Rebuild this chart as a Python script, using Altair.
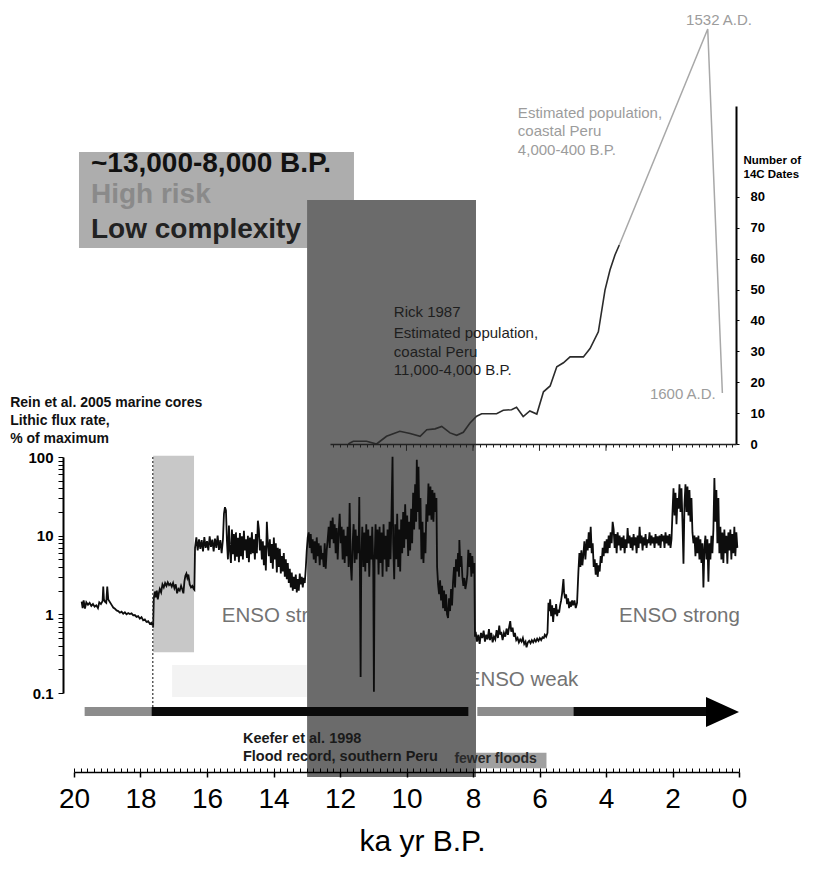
import altair as alt
import pandas as pd

FONT = "Liberation Sans, Arial, Helvetica, sans-serif"

# ---------------- data ----------------
X_TICKS = [20, 18, 16, 14, 12, 10, 8, 6, 4, 2, 0]
FLUX_TICKS = [0.1, 0.2, 0.3, 0.4, 0.5, 0.6, 0.7, 0.8, 0.9,
              1, 2, 3, 4, 5, 6, 7, 8, 9,
              10, 20, 30, 40, 50, 60, 70, 80, 90, 100]
POP_TICKS = [0, 10, 20, 30, 40, 50, 60, 70, 80]
POP_MAJOR_KA = [10, 8, 6, 4, 2]

# Rein et al. 2005 lithic flux (% of maximum), [ka, value]
FLUX_A = [(19.77,1.45),(19.74,1.20),(19.71,1.50),(19.67,1.18),(19.63,1.42),(19.58,1.32),(19.53,1.40),
          (19.48,1.28),(19.43,1.35),(19.38,1.25),(19.33,1.30),(19.28,1.20),(19.24,1.42),(19.19,1.35),
          (19.14,1.48),(19.12,2.25),(19.10,1.55),(19.07,1.45),(19.03,1.40),(19.00,2.25),(18.97,1.55),
          (18.86,1.30),(18.82,1.22),(18.77,1.18),(18.72,1.12),(18.67,1.10),(18.62,1.05),(18.57,1.08),
          (18.52,1.02),(18.47,1.06),(18.42,1.00),(18.37,1.04),(18.32,1.01),(18.27,1.03),(18.22,0.97),
          (18.17,0.98),(18.12,0.93),(18.07,0.95),(18.02,0.88),(17.97,0.92),(17.92,0.84),(17.87,0.86),
          (17.82,0.80),(17.77,0.82),(17.72,0.76),(17.67,0.78),(17.63,0.72),(17.62,0.68)]
FLUX_B = [(17.60,1.60),(17.57,1.95),(17.54,1.65),(17.51,2.00),(17.48,1.55),(17.45,1.85),(17.42,2.10),
          (17.38,1.90),(17.34,2.40),(17.30,2.20),(17.26,2.50),(17.22,2.30),(17.18,2.55),(17.14,2.35),
          (17.10,2.45),(17.06,2.25),(17.02,2.50),(16.98,2.15),(16.94,2.40),(16.90,1.85),(16.86,2.10),
          (16.82,2.00),(16.78,2.30),(16.74,2.05),(16.71,1.85),(16.68,2.60),(16.65,3.10),(16.62,3.30),
          (16.59,2.90),(16.56,3.20),(16.52,2.40),(16.48,2.20),(16.44,2.30),(16.40,2.10),(16.38,2.05)]
FLUX_C = [(16.36,7.0),(16.32,9.5),(16.28,6.5),(16.24,9.0),(16.20,6.8),(16.16,8.8),(16.12,6.3),(16.08,9.6),
          (16.04,7.0),(16.00,8.5),(15.96,6.5),(15.92,9.8),(15.88,7.2),(15.84,8.9),(15.80,6.3),(15.76,9.2),
          (15.72,7.0),(15.68,10.0),(15.64,6.6),(15.60,8.8),(15.56,6.0),(15.52,9.0),(15.49,19),(15.46,23),
          (15.43,21),(15.40,8.5),(15.37,5.0),(15.34,13.5),(15.31,6.5),(15.28,4.5),(15.25,12.0),(15.22,5.8),
          (15.19,10.5),(15.16,4.8),(15.13,11.0),(15.10,5.4),(15.07,9.4),(15.04,4.6),(15.01,10.8),
          (14.98,5.5),(14.95,9.8),(14.92,5.0),(14.89,11.5),(14.86,6.5),(14.83,9.0),(14.80,5.2),(14.77,10.0),
          (14.74,4.6),(14.71,9.5),(14.68,5.8),(14.65,11.0),(14.62,6.0),(14.59,9.0),(14.56,5.0),(14.53,10.5),
          (14.50,6.0),(14.47,15.5),(14.44,12.0),(14.41,6.5),(14.38,9.0),(14.35,5.0),(14.32,8.5),(14.29,4.2),
          (14.26,7.5),(14.23,3.6),(14.20,15.0),(14.17,8.0),(14.14,5.5),(14.11,9.0),(14.08,4.5),(14.05,7.8),
          (14.02,3.8),(13.99,9.5),(13.96,5.0),(13.93,8.0),(13.90,3.4),(13.87,7.0),(13.84,4.0),(13.81,6.8),
          (13.78,3.3),(13.75,5.5),(13.72,3.5),(13.69,6.0),(13.66,3.0),(13.63,5.0),(13.60,2.8),(13.57,4.5),
          (13.54,2.5),(13.51,3.8),(13.48,2.2),(13.45,3.4),(13.42,2.0),(13.39,3.0),(13.36,2.1),(13.33,3.2),
          (13.30,1.9),(13.27,2.8),(13.24,2.0),(13.21,3.3),(13.18,2.4),(13.15,3.0),(13.12,2.2),(13.09,2.9),
          (13.06,2.5),(13.03,3.8)]
FLUX_D = [(13.00,6.5),(12.97,9.5),(12.94,11.0),(12.91,7.0),(12.88,10.5),(12.85,6.0),(12.82,9.0),(12.79,5.0),
          (12.76,8.5),(12.73,4.5),(12.70,9.5),(12.67,5.5),(12.64,8.0),(12.61,4.2),(12.58,7.5),(12.55,5.0),
          (12.52,6.0),(12.49,4.0),(12.46,8.0),(12.43,3.8),(12.40,6.5),(12.37,9.0),(12.34,13.0),(12.31,7.0),
          (12.28,15.5),(12.25,9.0),(12.22,17.0),(12.19,8.0),(12.16,14.0),(12.13,6.0),(12.10,12.5),(12.07,5.0),
          (12.04,11.0),(12.01,19.0),(11.98,8.0),(11.95,13.0),(11.92,5.0),(11.89,12.0),(11.86,4.5),(11.83,10.0),
          (11.80,5.5),(11.77,13.0),(11.74,4.0),(11.71,26.0),(11.68,4.5),(11.65,2.7),(11.62,8.0),(11.59,14.0),
          (11.56,4.5),(11.53,12.0),(11.50,5.0),(11.47,10.0),(11.44,6.0),(11.42,31.0),(11.40,3.0),(11.38,0.16),
          (11.36,5.0),(11.33,13.0),(11.30,4.0),(11.27,11.0),(11.24,3.5),(11.21,14.0),(11.18,4.5),(11.15,12.0),
          (11.12,3.0),(11.09,10.0),(11.06,5.0),(11.03,13.0),(11.00,4.0),(10.98,0.104),(10.96,4.5),(10.93,14.0),
          (10.90,5.0),(10.87,12.0),(10.84,3.2),(10.81,13.0),(10.78,4.5),(10.75,11.0),(10.72,3.0),(10.69,14.0),
          (10.66,5.0),(10.63,10.0),(10.60,3.5),(10.57,12.0),(10.54,4.0),(10.51,15.0),(10.48,5.0),(10.45,20.0),
          (10.42,101),(10.40,8.0),(10.37,2.8),(10.34,14.0),(10.31,5.0),(10.28,19.0),(10.25,4.0),(10.22,12.0),
          (10.19,3.5),(10.16,16.0),(10.13,6.0),(10.10,20.0),(10.07,7.0),(10.04,25.0),(10.01,9.0),(9.98,18.0),
          (9.95,5.5),(9.92,15.0),(9.89,6.5),(9.86,22.0),(9.83,8.0),(9.80,35.0),(9.77,12.0),(9.74,45.0),
          (9.71,15.0),(9.69,92.0),(9.66,20.0),(9.64,75.0),(9.61,12.0),(9.58,30.0),(9.55,5.0),(9.52,15.0),
          (9.49,4.5),(9.46,11.0),(9.43,6.0),(9.40,25.0),(9.37,15.0),(9.34,46.0),(9.31,18.0),(9.28,42.0),
          (9.25,16.0),(9.22,38.0),(9.19,15.0),(9.16,35.0),(9.13,20.0),(9.10,30.0),(9.08,4.0),(9.05,2.4),
          (9.02,1.8),(8.99,2.7),(8.96,1.5),(8.93,2.3),(8.90,1.2),(8.87,2.0),(8.84,1.1),(8.81,1.8),(8.78,1.0),
          (8.75,0.9),(8.72,1.6),(8.69,1.1),(8.66,2.1),(8.63,1.3),(8.60,2.6),(8.57,4.0),(8.54,2.2),(8.51,5.0),
          (8.48,3.5),(8.45,6.0),(8.42,3.0),(8.41,8.8),(8.38,4.0),(8.35,5.5),(8.32,3.0),(8.29,2.3),(8.26,2.9),
          (8.23,2.1),(8.20,2.5),(8.17,3.2),(8.14,6.6),(8.11,4.0),(8.08,6.0),(8.05,3.0),(8.02,5.5),(7.99,3.3),
          (7.96,4.5),(7.94,0.52)]
FLUX_E = [(7.92,0.60),(7.88,0.45),(7.84,0.55),(7.80,0.42),(7.76,0.58),(7.72,0.50),(7.68,0.62),(7.64,0.45),
          (7.60,0.55),(7.56,0.48),(7.52,0.65),(7.49,0.47),(7.45,0.58),(7.41,0.44),(7.37,0.52),(7.33,0.48),
          (7.29,0.63),(7.25,0.50),(7.21,0.72),(7.18,0.55),(7.15,0.60),(7.11,0.47),(7.07,0.58),(7.03,0.52),
          (6.99,0.66),(6.95,0.55),(6.91,0.70),(6.88,0.82),(6.85,0.60),(6.81,0.68),(6.77,0.52),(6.74,0.58),
          (6.70,0.47),(6.66,0.50),(6.62,0.44),(6.58,0.48),(6.54,0.45),(6.50,0.50),(6.46,0.42),(6.42,0.45),
          (6.39,0.38),(6.35,0.44),(6.31,0.46),(6.27,0.43),(6.23,0.47),(6.19,0.44),(6.15,0.48),(6.11,0.45),
          (6.07,0.49),(6.03,0.46),(5.99,0.50),(5.95,0.47),(5.91,0.51),(5.87,0.50),(5.84,0.55),(5.80,0.52),
          (5.76,0.58),(5.73,1.4),(5.70,1.1),(5.68,1.55),(5.65,0.95),(5.62,1.3),(5.59,0.8),(5.56,1.2),
          (5.53,1.0),(5.50,1.35),(5.47,0.95),(5.44,1.15),(5.41,1.05),(5.38,1.3),(5.35,1.5),(5.32,1.85),
          (5.28,2.8),(5.26,1.9),(5.23,1.6),(5.20,1.8),(5.17,1.35),(5.14,1.6),(5.11,1.2),(5.08,1.45),
          (5.05,1.25),(5.02,1.5),(4.99,1.3),(4.95,1.5),(4.91,1.2),(4.87,1.4)]
FLUX_F = [(4.83,3.5),(4.80,6.0),(4.77,4.0),(4.74,6.5),(4.71,4.2),(4.68,5.8),(4.65,8.5),(4.62,5.0),(4.58,9.0),
          (4.55,6.5),(4.52,11.0),(4.49,7.0),(4.46,13.0),(4.43,6.0),(4.40,8.0),(4.37,4.0),(4.34,5.0),(4.31,3.2),
          (4.28,4.5),(4.25,3.0),(4.22,4.2),(4.19,3.5),(4.16,5.5),(4.13,4.5),(4.10,7.0),(4.07,5.5),(4.04,8.5),
          (4.01,6.0),(3.98,9.0),(3.95,6.0),(3.92,10.0),(3.89,7.0),(3.86,11.0),(3.83,8.0),(3.80,15.0),(3.77,12.0),
          (3.74,7.0),(3.71,10.5),(3.68,6.0),(3.65,11.0),(3.62,7.5),(3.59,10.0),(3.56,6.5),(3.53,9.5),(3.50,7.0),
          (3.47,10.0),(3.44,6.0),(3.41,9.0),(3.38,7.0),(3.35,12.5),(3.32,8.0),(3.29,10.0),(3.26,7.0),(3.23,9.5),
          (3.20,6.5),(3.17,10.5),(3.14,7.5),(3.11,9.5),(3.08,6.0),(3.05,10.0),(3.02,7.0),(2.99,13.0),(2.96,8.0),
          (2.93,10.0),(2.90,6.5),(2.87,9.5),(2.84,7.5),(2.81,10.5),(2.78,7.0),(2.75,9.0),(2.72,8.0),(2.69,11.0),
          (2.66,7.5),(2.63,10.0),(2.60,8.0),(2.57,9.5),(2.54,7.0),(2.51,10.5),(2.48,8.0),(2.45,9.8),(2.42,7.5),
          (2.39,10.0),(2.36,7.0),(2.33,10.5),(2.30,8.5),(2.27,10.0),(2.24,7.0),(2.21,11.0),(2.18,8.0),(2.15,10.0),
          (2.12,7.5),(2.09,10.5),(2.06,7.0),(2.03,9.0),(2.00,20.0),(1.97,40.0),(1.94,18.0),(1.91,35.0),(1.88,14.0),
          (1.85,30.0),(1.82,22.0),(1.79,45.0),(1.76,20.0),(1.73,40.0),(1.70,15.0),(1.67,4.4),(1.64,25.0),
          (1.61,45.0),(1.58,20.0),(1.55,42.0),(1.52,18.0),(1.49,38.0),(1.46,15.0),(1.43,30.0),(1.40,11.0),
          (1.37,8.0),(1.34,10.0),(1.31,5.5),(1.28,9.5),(1.25,6.0),(1.22,10.0),(1.19,5.0),(1.16,9.0),(1.13,4.5),
          (1.10,8.0),(1.07,2.2),(1.04,7.0),(1.01,10.0),(0.98,5.0),(0.95,9.0),(0.92,2.6),(0.89,8.0),(0.86,5.0),
          (0.83,10.0),(0.80,6.0),(0.77,12.0),(0.74,54),(0.71,15),(0.68,38),(0.65,8.0),(0.62,30),(0.59,6.0),
          (0.56,13.0),(0.53,5.0),(0.50,11.0),(0.47,4.5),(0.44,12.0),(0.41,6.0),(0.38,10.0),(0.35,4.4),
          (0.32,11.0),(0.29,6.5),(0.26,12.0),(0.23,5.0),(0.20,10.5),(0.17,6.0),(0.14,13.0),(0.11,5.5),
          (0.08,11.0),(0.05,7.0)]

# Rick 1987, number of 14C dates
POP_KA = [11.75, 11.70, 11.60, 11.20, 10.90, 10.60, 10.20, 9.89, 9.59, 9.39, 9.14, 8.94, 8.69, 8.49,
          8.29, 8.09, 7.89, 7.74, 7.29, 7.09, 6.84, 6.69, 6.49, 6.29, 6.08, 5.88, 5.68, 5.48, 5.28,
          5.08, 4.68, 4.48, 4.23, 4.03, 3.88, 3.73, 3.60]
POP_N = [0, 0.3, 0.9, 0.9, 0, 2.5, 4.1, 3.4, 2.5, 4.6, 4.9, 5.7, 3.6, 2.8, 3.8, 6.8, 9.0, 9.8, 9.8,
         10.9, 11.1, 11.9, 8.9, 10.7, 9.7, 16.9, 18.8, 25.0, 26.3, 28.2, 28.2, 30.9, 36.3, 49.8, 56.3,
         61.2, 64.4]
# later estimated population (4,000-400 B.P.)
LATE_KA = [3.60, 0.94, 0.50]
LATE_N = [64.4, 134.3, 16.5]

# bar below the flux record: ENSO state
BAR_K1 = [19.68, 17.67, 7.87, 4.98]
BAR_K2 = [17.67, 8.14, 4.98, 0.99]
BAR_COL = ["#8c8c8c", "#0a0a0a", "#8c8c8c", "#0a0a0a"]

# ---------------- scales / axes ----------------
SX = alt.Scale(domain=[20, 0], range=[66, 731], nice=False, zero=False)
SX_POP = alt.Scale(domain=[12.3, 0.09], range=[322, 728], nice=False, zero=False)
SY_FLUX = alt.Scale(type="log", domain=[0.1, 100], range=[685, 449], nice=False)
SY_POP = alt.Scale(domain=[0, 109.4], range=[436, 98], nice=False, zero=False)

AX_BOTTOM = alt.Axis(orient="bottom", values=X_TICKS, format="d", tickSize=5, tickWidth=1.5,
                     tickColor="black", domainColor="black", domainWidth=1.5, grid=False,
                     labelFont=FONT, labelFontSize=28, labelColor="black", labelPadding=8,
                     labelFlush=False, labelOverlap=False, zindex=1,
                     title="ka yr B.P.", titleFont=FONT, titleFontSize=30, titleFontWeight="normal",
                     titleColor="black", titleX=414, titleY=78, titleBaseline="alphabetic")
AX_TOPTICKS = alt.Axis(orient="top", offset=-764, labels=False, domain=False, tickCount=100,
                       tickSize=4, tickColor="black", tickWidth=1, grid=False, title=None, zindex=1)
AX_LEFT = alt.Axis(orient="left", offset=-55, values=FLUX_TICKS,
                   labelExpr="indexof([0.1,1,10,100], datum.value) >= 0 ? format(datum.value, '~g') : ''",
                   tickSize=5, tickColor="black", tickWidth=1, domainColor="black", domainWidth=2,
                   labelFont=FONT, labelFontSize=15, labelFontWeight="bold", labelColor="black",
                   labelPadding=5, labelFlush=False, labelOverlap=False, grid=False, title=None)
AX_RIGHT = alt.Axis(orient="right", offset=-69, values=POP_TICKS, tickSize=3, tickColor="black",
                    domainColor="black", domainWidth=2, grid=False, labelFont=FONT, labelFontSize=13,
                    labelFontWeight="bold", labelColor="black", labelPadding=11, labelFlush=False,
                    labelOverlap=False, title=["Number of", "14C Dates"], titleAngle=0,
                    titleAlign="left", titleBaseline="top", titleX=7, titleY=146, titleFont=FONT,
                    titleFontSize=11.5, titleFontWeight="bold", titleColor="black", titleLineHeight=14.5)
AX_POPX = alt.Axis(orient="bottom", offset=-328, labels=False, tickCount=60, tickSize=3,
                   tickColor="#222222", domainColor="#222222", domainWidth=1.5, grid=False,
                   title=None, zindex=1)


def X(field, scale=SX, axis=None):
    return alt.X(field, type="quantitative", scale=scale, axis=axis)


def Y(field, scale, axis=None):
    return alt.Y(field, type="quantitative", scale=scale, axis=axis)


def texts(df, xs, ys, xa, ya, **kw):
    return alt.Chart(df).mark_text(font=FONT, **kw).encode(
        x=X("ka", xs, xa), y=Y("v", ys, ya), text="t:N",
        color=alt.Color("c:N", scale=None))


# ---------- child 1: header box ----------
hdr_box = alt.Chart(pd.DataFrame({"k1": [19.85], "k2": [11.58], "n1": [94.5], "n2": [63.4]})).mark_rect(
    color="#adadad").encode(x=X("k1"), x2="k2", y=Y("n1", SY_POP), y2="n2")
hdr_txt = texts(pd.DataFrame({"ka": [19.49] * 3, "v": [90.6, 80.6, 69.3],
                              "t": ["~13,000-8,000 B.P.", "High risk", "Low complexity"],
                              "c": ["#111111", "#8a8a8a", "#222222"]}),
                SX, SY_POP, None, None, align="left", baseline="middle", fontSize=28, fontWeight="bold")
child1 = alt.layer(hdr_box, hdr_txt)

# ---------- child 2: light boxes, ENSO labels ----------
light = alt.Chart(pd.DataFrame({
    "k1": [17.62, 17.05, 8.85], "k2": [16.39, 13.0, 5.79],
    "f1": [104, 0.227, 0.01742], "f2": [0.33, 0.089, 0.01104],
    "c": ["#c8c8c8", "#f3f3f3", "#a0a0a0"]})).mark_rect().encode(
    x=X("k1", SX, AX_TOPTICKS), x2="k2", y=Y("f1", SY_FLUX), y2="f2", color=alt.Color("c:N", scale=None))
enso = texts(pd.DataFrame({"ka": [13.74, 1.79, 6.51], "v": [0.96, 0.96, 0.146],
                           "t": ["ENSO strong", "ENSO strong", "ENSO weak"],
                           "c": ["#737373", "#737373", "#737373"]}),
             SX, SY_FLUX, AX_TOPTICKS, None, align="center", baseline="middle", fontSize=20.5)
child2 = alt.layer(light, enso)

# ---------- child 3: dark period rectangle ----------
child3 = alt.Chart(pd.DataFrame({"k1": [12.99], "k2": [7.91], "n1": [79.0], "n2": [-107.8]})).mark_rect(
    color="#6b6b6b").encode(x=X("k1"), x2="k2", y=Y("n1", SY_POP), y2="n2")

# ---------- child 4: population panel ----------
pop_line = alt.Chart(pd.DataFrame({"ka": POP_KA, "v": POP_N})).mark_line(
    color="#2b2b2b", strokeWidth=1.6).encode(x=X("ka", SX_POP, AX_POPX), y=Y("v", SY_POP, AX_RIGHT))
late_line = alt.Chart(pd.DataFrame({"ka": LATE_KA, "v": LATE_N, "o": [0, 1, 2]})).mark_line(
    color="#a8a8a8", strokeWidth=1.5).encode(x=X("ka", SX_POP, AX_POPX), y=Y("v", SY_POP, AX_RIGHT),
                                             order="o:Q")
pop_major = alt.Chart(pd.DataFrame({"ka": POP_MAJOR_KA, "v": [0] * 5, "v2": [-2.2] * 5})).mark_rule(
    color="#222222", strokeWidth=1).encode(x=X("ka", SX_POP, AX_POPX), y=Y("v", SY_POP, AX_RIGHT), y2="v2")
rick = texts(pd.DataFrame({"ka": [10.38] * 4, "v": [42.7, 35.9, 29.8, 23.9],
                           "t": ["Rick 1987", "Estimated population,", "coastal Peru", "11,000-4,000 B.P."],
                           "c": ["#1e1e1e"] * 4}),
             SX_POP, SY_POP, AX_POPX, AX_RIGHT, align="left", baseline="middle", fontSize=15)
grey = texts(pd.DataFrame({"ka": [6.65, 6.65, 6.65, 1.59, 2.68], "v": [107.1, 101.3, 95.1, 137.2, 16.2],
                           "t": ["Estimated population,", "coastal Peru", "4,000-400 B.P.",
                                 "1532 A.D.", "1600 A.D."],
                           "c": ["#9c9c9c"] * 5}),
             SX_POP, SY_POP, AX_POPX, AX_RIGHT, align="left", baseline="middle", fontSize=15)
child4 = alt.layer(pop_line, late_line, pop_major, rick, grey)

# ---------- child 5: lithic flux panel ----------
flux_rows = FLUX_A + FLUX_B + FLUX_C + FLUX_D + FLUX_E + FLUX_F
flux_df = pd.DataFrame(flux_rows, columns=["ka", "v"])
flux_df["o"] = range(len(flux_df))
flux_line = alt.Chart(flux_df).mark_line(color="#0d0d0d", strokeWidth=1.8).encode(
    x=X("ka", SX, AX_BOTTOM), y=Y("v", SY_FLUX, AX_LEFT), order="o:Q")
dotted = alt.Chart(pd.DataFrame({"ka": [17.63], "v": [100], "v2": [0.0525]})).mark_rule(
    color="#333333", strokeDash=[2, 2], strokeWidth=1.2).encode(
    x=X("ka", SX, AX_BOTTOM), y=Y("v", SY_FLUX, AX_LEFT), y2="v2")
bars = alt.Chart(pd.DataFrame({"ka": BAR_K1, "k2": BAR_K2, "c": BAR_COL,
                               "v": [0.0664] * 4, "v2": [0.0511] * 4})).mark_rect().encode(
    x=X("ka", SX, AX_BOTTOM), x2="k2", y=Y("v", SY_FLUX, AX_LEFT), y2="v2",
    color=alt.Color("c:N", scale=None))
head = alt.Chart(pd.DataFrame({"ka": [0.496], "v": [0.0573]})).mark_point(
    shape="M-1,-0.91L1,0L-1,0.91Z", size=1089, filled=True, color="black", opacity=1, strokeWidth=0).encode(
    x=X("ka", SX, AX_BOTTOM), y=Y("v", SY_FLUX, AX_LEFT))
rein = texts(pd.DataFrame({"ka": [21.92] * 3, "v": [490, 289.3, 167.9],
                           "t": ["Rein et al. 2005 marine cores", "Lithic flux rate,", "% of maximum"],
                           "c": ["#111111"] * 3}),
             SX, SY_FLUX, AX_BOTTOM, AX_LEFT, align="left", baseline="middle", fontSize=14, fontWeight="bold")
keefer = texts(pd.DataFrame({"ka": [14.92, 14.92], "v": [0.02578, 0.01522],
                             "t": ["Keefer et al. 1998", "Flood record, southern Peru"],
                             "c": ["#1a1a1a"] * 2}),
               SX, SY_FLUX, AX_BOTTOM, AX_LEFT, align="left", baseline="middle", fontSize=14.5, fontWeight="bold")
fewer = texts(pd.DataFrame({"ka": [7.32], "v": [0.01435], "t": ["fewer floods"], "c": ["#2a2a2a"]}),
              SX, SY_FLUX, AX_BOTTOM, AX_LEFT, align="center", baseline="middle", fontSize=14, fontWeight="bold")
child5 = alt.layer(flux_line, dotted, bars, head, rein, keefer, fewer)

chart = alt.layer(child1, child2, child3, child4, child5).resolve_scale(
    x="independent", y="independent"
).properties(
    width=797, height=764,
    padding={"left": 0, "top": 0, "right": 0, "bottom": 90},
    autosize=alt.AutoSizeParams(type="none"),
    background="white",
).configure_view(stroke=None)

chart.save("out.html", embed_options={"renderer": "svg", "actions": False})
